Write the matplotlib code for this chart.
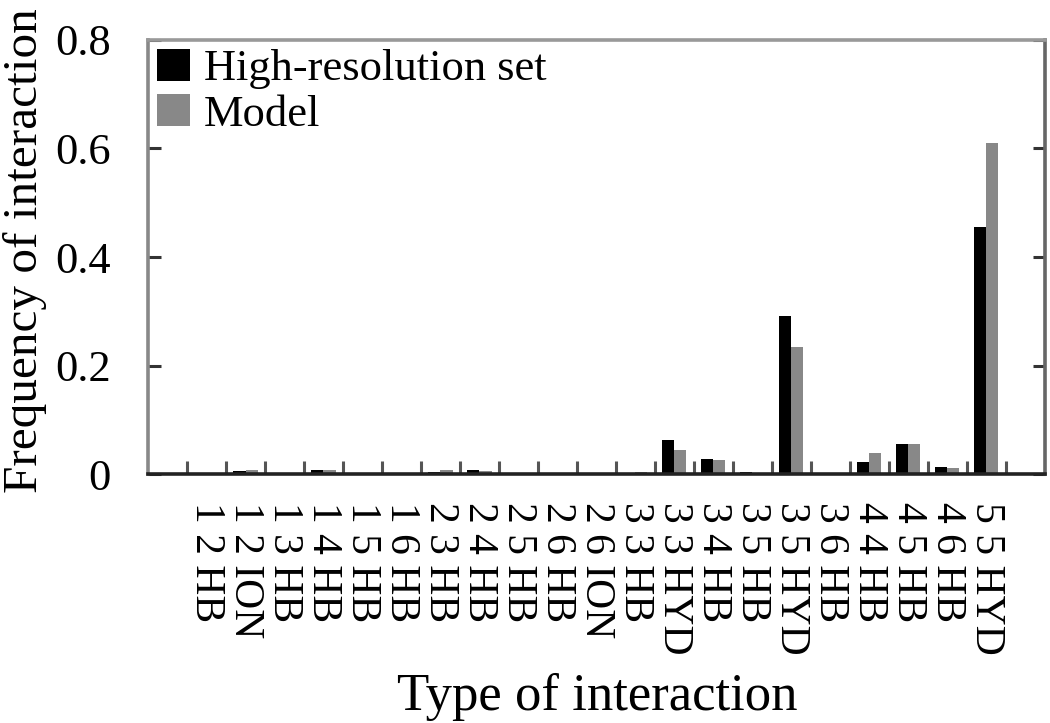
import matplotlib
matplotlib.use("Agg")
import matplotlib.pyplot as plt
import numpy as np

categories = ["1 2 HB", "1 2 ION", "1 3 HB", "1 4 HB", "1 5 HB", "1 6 HB",
              "2 3 HB", "2 4 HB", "2 5 HB", "2 6 HB", "2 6 ION",
              "3 3 HB", "3 3 HYD", "3 4 HB", "3 5 HB", "3 5 HYD", "3 6 HB",
              "4 4 HB", "4 5 HB", "4 6 HB", "5 5 HYD"]
high_res = [0.002, 0.006, 0.001, 0.007, 0.002, 0.001,
            0.004, 0.008, 0.002, 0.001, 0.001,
            0.003, 0.063, 0.029, 0.004, 0.291, 0.001,
            0.022, 0.055, 0.013, 0.455]
model = [0.001, 0.008, 0.001, 0.007, 0.001, 0.001,
         0.008, 0.006, 0.001, 0.001, 0.001,
         0.005, 0.044, 0.027, 0.002, 0.234, 0.001,
         0.040, 0.055, 0.012, 0.610]
y_ticks = [0, 0.2, 0.4, 0.6, 0.8]
y_tick_labels = ["0", "0.2", "0.4", "0.6", "0.8"]

plt.rcParams['font.family'] = ['Liberation Serif', 'DejaVu Serif']

fig = plt.figure(figsize=(10.5, 7.23), dpi=100)
ax = fig.add_axes([0.141, 0.344, 0.854, 0.601])

x = np.arange(len(categories))
w = 0.31
ax.bar(x - w / 2, high_res, width=w, color="#000000", label="High-resolution set")
ax.bar(x + w / 2, model, width=w, color="#888888", label="Model")

ax.set_xlim(-1.5, len(categories) + 0.5)
ax.set_ylim(0, 0.8)

ax.set_yticks(y_ticks)
ax.set_yticklabels(y_tick_labels, fontsize=32)
ax.tick_params(axis='y', direction='in', length=9, width=2.2, color='#333333',
               right=True, pad=27)

# x ticks at category boundaries (no labels), labels via minor ticks at centers
ax.set_xticks(np.arange(-0.5, len(categories), 1.0))
ax.set_xticklabels([])
ax.tick_params(axis='x', which='major', direction='in', length=9.5, width=2.2,
               color='#555555')
ax.set_xticks(x, minor=True)
ax.set_xticklabels(categories, minor=True, rotation=270, fontsize=30,
                   va='top', ha='center')
ax.tick_params(axis='x', which='minor', length=0, pad=20)

for side, col in [('top', '#999999'), ('left', '#888888'),
                  ('right', '#666666'), ('bottom', '#222222')]:
    ax.spines[side].set_color(col)
    ax.spines[side].set_linewidth(2.6)

ax.set_xlabel("Type of interaction", fontsize=38)
ax.xaxis.label.set_va('baseline')
ax.xaxis.set_label_coords(0.5006, -0.5415)

ax.set_ylabel("Frequency of interaction", fontsize=35.5)
ax.yaxis.label.set_va('baseline')
ax.yaxis.set_label_coords(-0.1237, 0.5155)

ax.legend(loc='upper left', frameon=False, fontsize=32, handlelength=0.75,
          handleheight=0.75, handletextpad=0.3, labelspacing=0.1,
          borderaxespad=0.05, borderpad=0.15)

fig.savefig("out.png", dpi=100)
